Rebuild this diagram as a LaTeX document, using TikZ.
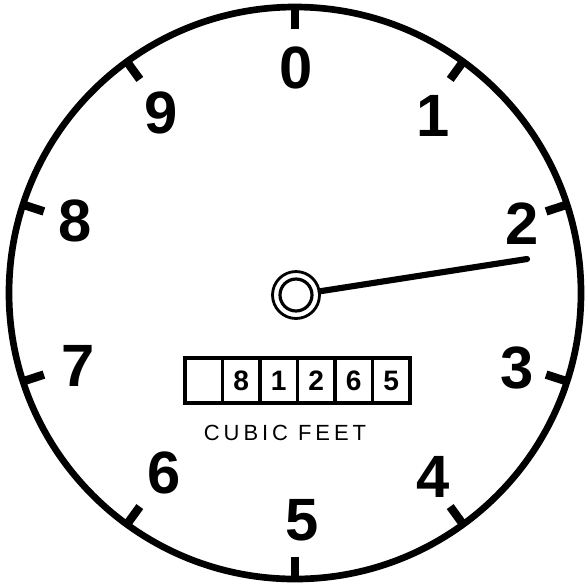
\documentclass[tikz,border=0pt]{standalone}
\usepackage{fontspec}
\newfontfamily\dialfont{Liberation Sans}
\usetikzlibrary{calc}

\tikzset{
  dial/.style={line width=3.8pt},
  tickmark/.style={line width=4.8pt},
  num/.style={font=\dialfont\bfseries\fontsize{34}{34}\selectfont, inner sep=0pt},
  pointer/.style={line width=3.5pt, line cap=round},
  cell/.style={draw, line width=2.2pt, minimum width=0.75cm, minimum height=0.9cm, inner sep=0pt,
    font=\dialfont\bfseries\fontsize{16}{16}\selectfont},
}

\begin{document}
\begin{tikzpicture}[x=0.02cm, y=-0.02cm]
        \useasboundingbox (0,0) rectangle (588,586);
        \coordinate (ctr) at (295,293);

        % dial face
        \draw[dial] (ctr) circle[radius=286];
        \foreach \a in {0,36,...,324}
            \draw[tickmark] ($(ctr)+(\a-90:287)$) -- ($(ctr)+(\a-90:264)$);

        % numbers
        \foreach \n/\x/\y in {0/296/68, 1/433/116, 2/522/224, 3/517/368, 4/433/477,
                               5/302/520, 6/164/473, 7/78/366, 8/75/221, 9/161/113}
            \node[num] (n\n) at (\x,\y) {\n};

        % counter
        \foreach \i/\d in {0/{}, 1/8, 2/1, 3/2, 4/6, 5/5}
            \node[cell] (c\i) at (203.75+\i*37.5,380.5) {\d};
        \node[font=\dialfont\fontsize{12.5}{12.5}\selectfont\addfontfeatures{LetterSpace=18}] (unit) at (285,433) {CUBIC FEET};

        % hand
        \node[draw, circle, line width=1.6pt, minimum size=0.94cm, inner sep=0pt] (hub) at (296,295) {};
        \draw[line width=1.8pt] (hub.center) circle[radius=0.32cm];
        \coordinate (tip) at (527,259);
        \draw[pointer] (hub) -- (tip);

\end{tikzpicture}
\end{document}
